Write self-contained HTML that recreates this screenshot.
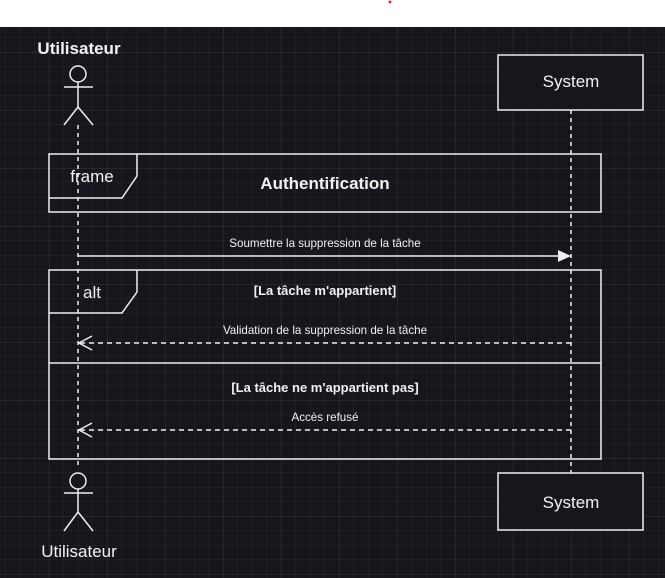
<!DOCTYPE html>
<html><head><meta charset="utf-8"><style>
html,body{margin:0;padding:0;width:665px;height:578px;overflow:hidden;background:#fff}
svg{display:block}
text{font-family:"Liberation Sans",Arial,sans-serif;fill:#f2f2f2}
</style></head><body>
<svg width="665" height="578" viewBox="0 0 665 578">
<defs>
<pattern id="minor" x="-9" y="-6" width="14.5" height="14.5" patternUnits="userSpaceOnUse">
<path d="M0 0H14.5M0 0V14.5" stroke="#29272d" stroke-width="1" fill="none"/>
</pattern>
<pattern id="major" x="-9" y="-6" width="58" height="58" patternUnits="userSpaceOnUse">
<path d="M0 0H58M0 0V58" stroke="#39373d" stroke-width="1" fill="none"/>
</pattern>
</defs>
<rect x="0" y="0" width="665" height="27" fill="#fff"/>
<circle cx="390" cy="2" r="1.5" fill="#e03030"/>
<rect x="0" y="27" width="665" height="551" fill="#18161c"/>
<rect x="0" y="27" width="665" height="551" fill="url(#minor)"/>
<rect x="0" y="27" width="665" height="551" fill="url(#major)"/>

<g stroke="#eeeeee" fill="none" stroke-width="1.5">
<line x1="78" y1="125" x2="78" y2="466" stroke-dasharray="4,4"/>
<line x1="571" y1="110" x2="571" y2="473" stroke-dasharray="4,4"/>
<circle cx="78" cy="74" r="8" fill="#18161c"/>
<line x1="64" y1="87" x2="93" y2="87"/>
<line x1="78" y1="82" x2="78" y2="107"/>
<polyline points="64,125 78,107 93,125"/>
<circle cx="78" cy="481" r="8" fill="#18161c"/>
<line x1="64" y1="493" x2="93" y2="493"/>
<line x1="78" y1="489" x2="78" y2="512"/>
<polyline points="64,531 78,512 93,531"/>
<rect x="498" y="55" width="145" height="55" fill="#18161c"/>
<rect x="498" y="473" width="145" height="57" fill="#18161c"/>
<rect x="49" y="154" width="552" height="58"/>
<polyline points="49,198 122,198 137,176 137,154"/>
<rect x="49" y="270" width="552" height="189"/>
<polyline points="49,313 122,313 137,292 137,270"/>
<line x1="49" y1="363" x2="601" y2="363"/>
<line x1="78" y1="256" x2="560" y2="256"/>
<line x1="571" y1="343" x2="80" y2="343" stroke-dasharray="5,4"/>
<polyline points="92,336 79,343 92,350"/>
<line x1="571" y1="430" x2="80" y2="430" stroke-dasharray="5,4"/>
<polyline points="92,423 79,430 92,437"/>
</g>
<polygon points="558,250 571,256 558,262" fill="#eeeeee"/>

<text x="79" y="54" font-size="17" font-weight="bold" text-anchor="middle">Utilisateur</text>
<text x="79" y="557" font-size="17" text-anchor="middle">Utilisateur</text>
<text x="571" y="87" font-size="17" text-anchor="middle">System</text>
<text x="571" y="508" font-size="17" text-anchor="middle">System</text>
<text x="92" y="182" font-size="17" text-anchor="middle">frame</text>
<text x="325" y="189" font-size="17" font-weight="bold" text-anchor="middle">Authentification</text>
<text x="92" y="298" font-size="17" text-anchor="middle">alt</text>
<text x="325" y="247" font-size="11.6" text-anchor="middle">Soumettre la suppression de la tâche</text>
<text x="325" y="295" font-size="13" font-weight="bold" text-anchor="middle">[La tâche m'appartient]</text>
<text x="325" y="334" font-size="11.6" text-anchor="middle">Validation de la suppression de la tâche</text>
<text x="325" y="392" font-size="13" font-weight="bold" text-anchor="middle">[La tâche ne m'appartient pas]</text>
<text x="325" y="421" font-size="11.6" text-anchor="middle">Accès refusé</text>
</svg>
</body></html>
